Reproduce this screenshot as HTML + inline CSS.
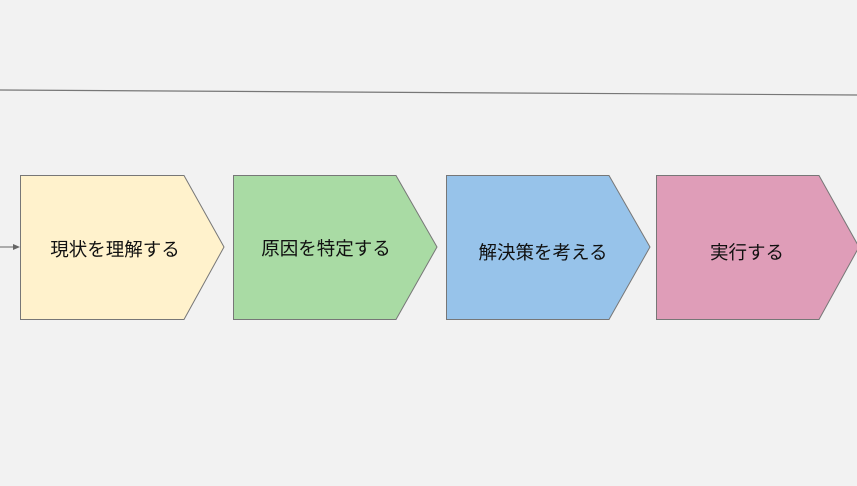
<!DOCTYPE html>
<html><head><meta charset="utf-8"><style>
html,body{margin:0;padding:0;background:#f2f2f2;}
svg{display:block}
text{font-family:"Liberation Sans","Noto Sans CJK JP",sans-serif;font-size:18.5px;fill:#111;}
</style></head><body>
<svg width="857" height="486" viewBox="0 0 857 486">
<rect width="857" height="486" fill="#f2f2f2"/>
<line x1="0" y1="90" x2="857" y2="95" stroke="#777" stroke-width="1.2"/>
<line x1="0" y1="247" x2="14" y2="247" stroke="#666" stroke-width="1"/>
<polygon points="20,247 13,244 13,250" fill="#666"/>
<polygon points="20.5,175.5 184,175.5 224,247 184,319.5 20.5,319.5" fill="#fff2cc" stroke="#777"/>
<polygon points="233.5,175.5 396,175.5 437,247 396,319.5 233.5,319.5" fill="#a9dba4" stroke="#777"/>
<polygon points="446.5,175.5 609,175.5 650,247 609,319.5 446.5,319.5" fill="#97c3ea" stroke="#777"/>
<polygon points="656.5,175.5 819,175.5 859,247 819,319.5 656.5,319.5" fill="#df9db8" stroke="#777"/>
<text x="115" y="256" text-anchor="middle">現状を理解する</text>
<text x="326" y="255" text-anchor="middle">原因を特定する</text>
<text x="543" y="259" text-anchor="middle">解決策を考える</text>
<text x="747" y="259" text-anchor="middle">実行する</text>
</svg>
</body></html>
